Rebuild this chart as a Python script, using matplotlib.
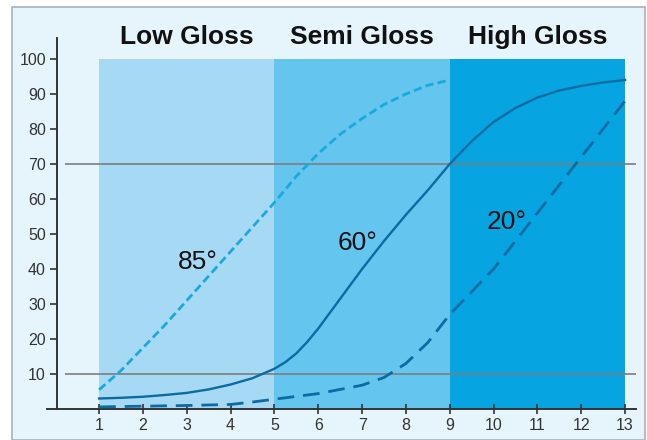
import matplotlib
matplotlib.use("Agg")
import matplotlib.pyplot as plt
from matplotlib.patches import Rectangle

plt.rcParams['font.family'] = ['Liberation Sans', 'DejaVu Sans']

# gloss ranges (x from, x to) and names
zone_names = ["Low Gloss", "Semi Gloss", "High Gloss"]
zone_edges = [1, 5, 9, 13]
zone_colors = ["#a6daf4", "#64c5ee", "#06a4e0"]

# 85 degree curve (short dashes)
x85 = [1, 1.5, 2, 2.5, 3, 3.5, 4, 4.5, 5, 5.5, 6, 6.5, 7, 7.5, 8, 8.5, 9]
y85 = [5.5, 11, 17.5, 24, 31, 38, 45, 52, 59, 66.5, 73, 78.5, 83, 87, 90, 92.5, 94]

# 60 degree curve (solid)
x60 = [1, 1.5, 2, 2.5, 3, 3.5, 4, 4.5, 5, 5.25, 5.5, 5.75, 6, 6.5, 7, 7.5, 8,
       8.5, 9, 9.5, 10, 10.5, 11, 11.5, 12, 12.5, 13]
y60 = [3, 3.2, 3.5, 4, 4.6, 5.6, 7, 8.8, 11.5, 13.4, 15.9, 19.2, 23, 31.5, 40,
       48, 55.5, 62.5, 70, 76.5, 82, 86, 89, 91, 92.3, 93.3, 94]

# 20 degree curve (long dashes)
x20 = [1, 2, 3, 4, 4.5, 5, 5.5, 6, 6.5, 7, 7.5, 8, 8.5, 9, 9.5, 10, 10.5,
       11, 11.5, 12, 12.5, 13]
y20 = [0.6, 0.8, 1.0, 1.3, 2, 2.8, 3.6, 4.4, 5.6, 6.8, 9, 13, 19, 27, 33.5,
       40, 48, 56, 64, 72, 80, 88]

ref_levels = [10, 70]
x_ticks = list(range(1, 14))
y_ticks = list(range(10, 101, 10))

fig = plt.figure(figsize=(6.47, 4.40), dpi=100, facecolor="white")
# light blue panel with grey frame
fig.patches.append(Rectangle((12 / 647, 0), 633 / 647, 433 / 440,
                             transform=fig.transFigure, facecolor="#e6f4fb",
                             edgecolor="#a9b2b8", linewidth=1.2, zorder=0))

ax = fig.add_axes([47 / 647, 31 / 440, 589 / 647, 371 / 440])
ax.set_zorder(2)
ax.set_facecolor("none")
ax.set_xlim(-0.19, 13.25)
ax.set_ylim(0, 106)

for i, name in enumerate(zone_names):
    x0, x1 = zone_edges[i], zone_edges[i + 1]
    ax.axvspan(x0, x1, ymin=0, ymax=100 / 106, color=zone_colors[i], lw=0, zorder=1)
    ax.text((x0 + x1) / 2, 106.3, name, ha="center", va="center",
            fontsize=19, fontweight="bold", color="#111111", clip_on=False)

ax.hlines(ref_levels, 0.22, 13.25, color="#7d7d7d", lw=1.2, zorder=2)

ax.plot(x85, y85, color="#1aa9dd", lw=2, dashes=(3, 1.5), zorder=3)
ax.plot(x60, y60, color="#0b6ba3", lw=1.7, zorder=3)
ax.plot(x20, y20, color="#0b6ba3", lw=2, dashes=(6, 3.2), zorder=3)

ax.text(3.25, 42, "85°", fontsize=19, ha="center", va="center", color="#111111", zorder=4)
ax.text(6.9, 47.4, "60°", fontsize=19, ha="center", va="center", color="#111111", zorder=4)
ax.text(10.3, 53.4, "20°", fontsize=19, ha="center", va="center", color="#111111", zorder=4)

for s in ["top", "right"]:
    ax.spines[s].set_visible(False)
ax.spines["left"].set_position(("data", 0.04))
ax.spines["left"].set_color("#333333")
ax.spines["bottom"].set_color("#333333")
ax.spines["left"].set_linewidth(1.4)
ax.spines["bottom"].set_linewidth(1.4)

ax.set_xticks(x_ticks)
ax.set_yticks(y_ticks)
ax.tick_params(axis="y", direction="out", length=5, width=1.2, colors="#333333",
               labelsize=11.5, pad=3)
ax.tick_params(axis="x", direction="inout", length=7, width=1.2, colors="#333333",
               labelsize=11.5, pad=3)

fig.savefig("out.png", dpi=100, facecolor="white")
